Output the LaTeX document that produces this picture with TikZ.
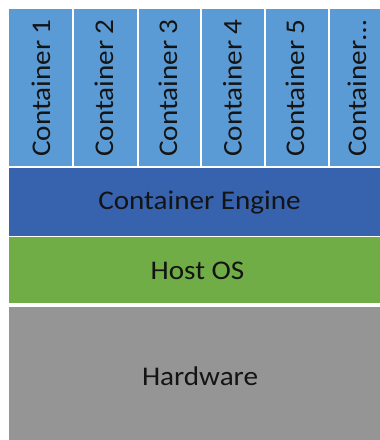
\documentclass[tikz,border=0pt]{standalone}
\usepackage{fontspec}
\setmainfont[FakeStretch=1.08]{Carlito}
\definecolor{contblue}{HTML}{5B9BD5}
\definecolor{engblue}{HTML}{3762AE}
\definecolor{hostgreen}{HTML}{70AD47}
\definecolor{hwgray}{HTML}{959595}
\definecolor{txt}{HTML}{141414}
\tikzset{
  layer/.style={draw=none, inner sep=0pt, outer sep=0pt, anchor=south west},
  vlabel/.style={rotate=90, anchor=base west, inner sep=0pt, font=\fontsize{27}{30}\selectfont, text=txt},
  hlabel/.style={anchor=base, inner sep=0pt, font=\fontsize{27}{30}\selectfont, text=txt}
}
\begin{document}
\begin{tikzpicture}[x=1pt,y=1pt]
\useasboundingbox (0,0) rectangle (380,440);
\clip (0,0) rectangle (380,440);
\fill[white] (0,0) rectangle (380,440);
% containers
\node[layer, fill=contblue, minimum width=63pt, minimum height=157pt] (c1) at (9,274) {};
\node[layer, fill=contblue, minimum width=63pt, minimum height=157pt] (c2) at (74,274) {};
\node[layer, fill=contblue, minimum width=61pt, minimum height=157pt] (c3) at (139,274) {};
\node[layer, fill=contblue, minimum width=62pt, minimum height=157pt] (c4) at (202,274) {};
\node[layer, fill=contblue, minimum width=61.5pt, minimum height=157pt] (c5) at (266,274) {};
\node[layer, fill=contblue, minimum width=63pt, minimum height=157pt] (c6) at (329.5,274) {};
% layers
\node[layer, fill=engblue, minimum width=383pt, minimum height=68pt] (eng) at (9,204) {};
\node[layer, fill=hostgreen, minimum width=383pt, minimum height=66pt] (host) at (9,137) {};
\node[layer, fill=hwgray, minimum width=383pt, minimum height=133pt] (hw) at (9,0) {};
% vertical labels
\node[vlabel] (l1) at (50,283) {Container 1};
\node[vlabel] (l2) at (113,283) {Container 2};
\node[vlabel] (l3) at (177,283) {Container 3};
\node[vlabel] (l4) at (241.5,283) {Container 4};
\node[vlabel] (l5) at (304,283) {Container 5};
\node[vlabel] (l6) at (366,283) {Container…};
% horizontal labels
\node[hlabel] (le) at (199.5,230.7) {Container Engine};
\node[hlabel] (lh) at (197.5,160.7) {Host OS};
\node[hlabel] (lw) at (200,55) {Hardware};
\end{tikzpicture}
\end{document}
